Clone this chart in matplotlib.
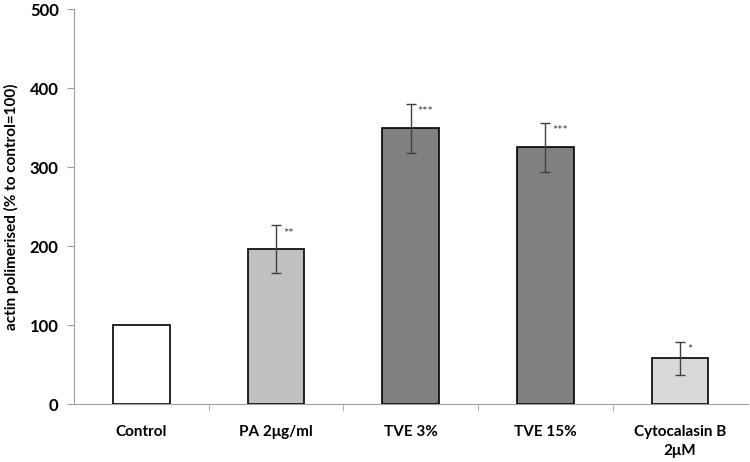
import matplotlib
matplotlib.use("Agg")
import matplotlib.pyplot as plt
from matplotlib.ticker import FixedLocator

categories = ["Control", "PA 2\u03bcg/ml", "TVE 3%", "TVE 15%", "Cytocalasin B\n2\u03bcM"]
values = [100, 196, 349, 325, 58]
errors = [0, 30, 31, 31, 21]
signif = ["", "**", "***", "***", "*"]
colors = ["#ffffff", "#c0c0c0", "#808080", "#808080", "#d9d9d9"]
yticks = [0, 100, 200, 300, 400, 500]

plt.rcParams['font.family'] = ['Lato', 'DejaVu Sans']

fig = plt.figure(figsize=(7.5, 4.62), dpi=100)
ax = fig.add_axes([0.0987, 0.1255, 0.898, 0.855])

x = list(range(len(categories)))
ax.bar(x, values, width=0.42, color=colors, edgecolor="#000000", linewidth=1.2, zorder=2)
for xi, v, e, s in zip(x, values, errors, signif):
    if e > 0:
        ax.errorbar(xi, v, yerr=e, fmt="none", ecolor="#404040", elinewidth=1, capsize=3.5, capthick=1, zorder=3)
    if s:
        ax.annotate(s, (xi, v + e), xytext=(5, -6), textcoords="offset points",
                    ha="left", va="center", fontsize=9, color="#404040")

ax.set_xlim(-0.5, len(categories) - 0.5)
ax.set_ylim(0, 500)
ax.set_yticks(yticks)
ax.set_yticklabels([str(t) for t in yticks], fontsize=12, fontweight="bold")
ax.set_xticks(x)
ax.set_xticklabels(categories, fontsize=11, fontweight="bold", linespacing=1.5)
ax.tick_params(axis="x", which="major", length=0, pad=15)
ax.xaxis.set_minor_locator(FixedLocator([i + 0.5 for i in range(len(categories) - 1)]))
ax.tick_params(axis="x", which="minor", length=5, color="#a0a0a0", direction="out")
ax.tick_params(axis="y", length=5, color="#a0a0a0", direction="out", pad=6)

ax.set_ylabel("actin polimerised (% to control=100)", fontsize=11, fontweight="bold", labelpad=8)

for sp in ["top", "right"]:
    ax.spines[sp].set_visible(False)
ax.spines["left"].set_color("#a0a0a0")
ax.spines["bottom"].set_color("#a0a0a0")

fig.savefig("out.png", dpi=100, facecolor="white")
